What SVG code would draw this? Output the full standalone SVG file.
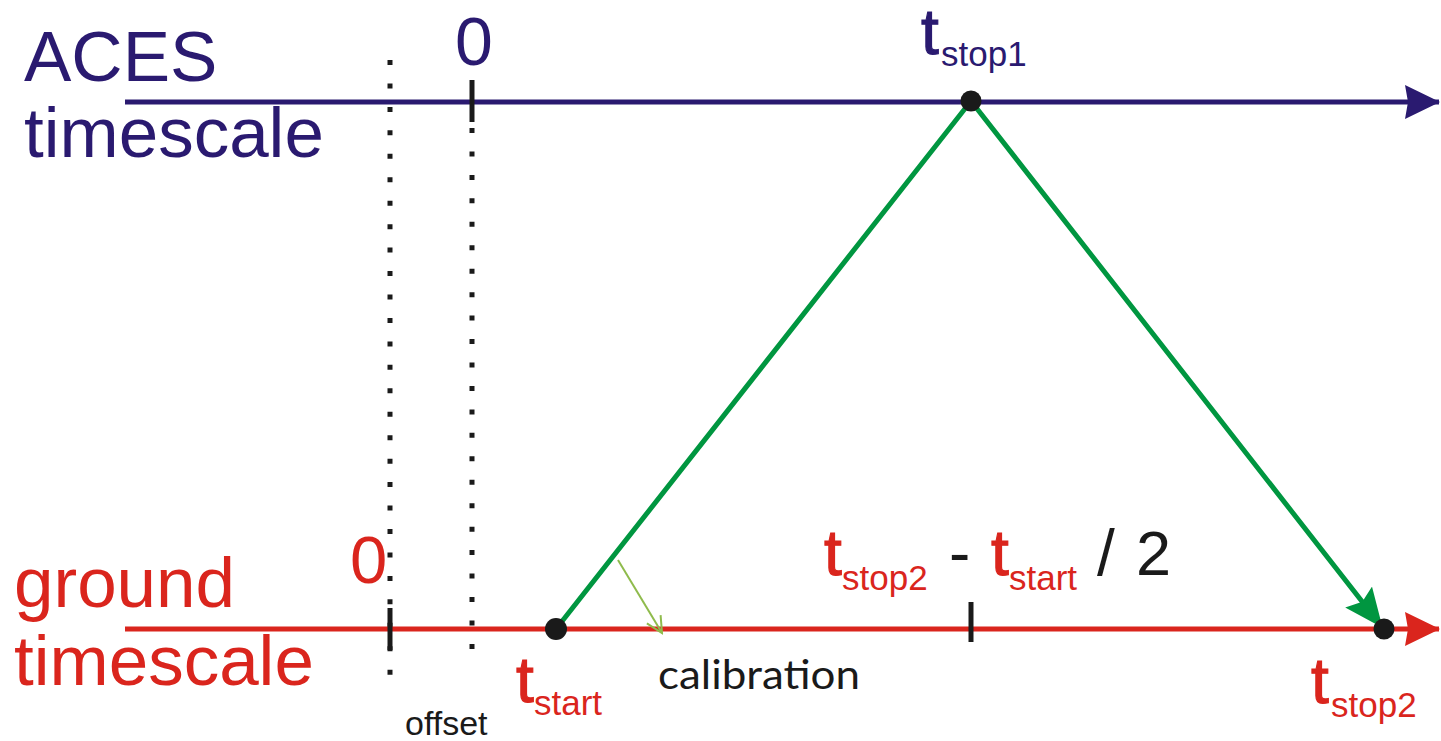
<svg xmlns="http://www.w3.org/2000/svg" width="1441" height="741" viewBox="0 0 1441 741">
<style>
.t{font-family:"Liberation Sans",Arial,sans-serif}
.blue{fill:#2a1a70}
.red{fill:#da251d}
.blk{fill:#1a1a1a}
.bt{stroke-width:1.2}
.blue.bt{stroke:#2a1a70}
.red.bt{stroke:#da251d}
.dots{stroke:#1a1a1a;stroke-width:5;stroke-dasharray:5 18.45;fill:none}
.tick{stroke:#1a1a1a;stroke-width:5}
.pt{fill:#1a1a1a}
</style>
<defs>
<marker id="ahBlue" viewBox="0 0 36 36" refX="34" refY="18" markerWidth="36" markerHeight="36" markerUnits="userSpaceOnUse" orient="auto">
<path d="M0,1 L35,18 L0,35 L3,18 Z" fill="#2a1a70"/>
</marker>
<marker id="ahRed" viewBox="0 0 36 36" refX="34" refY="18" markerWidth="36" markerHeight="36" markerUnits="userSpaceOnUse" orient="auto">
<path d="M0,1 L35,18 L0,35 L3,18 Z" fill="#da251d"/>
</marker>
<marker id="ahGreen" viewBox="0 0 40 34" refX="38" refY="17" markerWidth="40" markerHeight="34" markerUnits="userSpaceOnUse" orient="auto">
<path d="M0,0 L39,17 L0,34 L6,17 Z" fill="#009640"/>
</marker>
<marker id="ahCal" viewBox="0 0 20 20" refX="18" refY="10" markerWidth="20" markerHeight="20" markerUnits="userSpaceOnUse" orient="auto">
<path d="M2,2 L18,10 L2,18" fill="none" stroke="#8fbb4c" stroke-width="2"/>
</marker>
</defs>

<g id="guides">
<line class="dots" x1="390" y1="60" x2="390" y2="676"/>
<line class="dots" x1="472" y1="128" x2="472" y2="649"/>
</g>

<g id="connectors">
<line x1="125" y1="102" x2="1439" y2="102" stroke="#2a1a70" stroke-width="5" marker-end="url(#ahBlue)"/>
<line x1="125" y1="629" x2="1439" y2="629" stroke="#da251d" stroke-width="5" marker-end="url(#ahRed)"/>
<polyline points="556,629 971,101 1382,627" fill="none" stroke="#009640" stroke-width="5" marker-end="url(#ahGreen)"/>
<line x1="618" y1="560" x2="662" y2="633" stroke="#8fbb4c" stroke-width="2" marker-end="url(#ahCal)"/>
</g>

<g id="ticks">
<line class="tick" x1="472" y1="80" x2="472" y2="122"/>
<line class="tick" x1="390" y1="608" x2="390" y2="650"/>
<line class="tick" x1="971" y1="602" x2="971" y2="642"/>
</g>

<g id="aces-label">
<text class="t blue" x="24" y="81" font-size="71">ACES</text>
<text class="t blue" x="24" y="157" font-size="71">timescale</text>
</g>
<g id="ground-label">
<text class="t red" x="14" y="607" font-size="71">ground</text>
<text class="t red" x="14" y="685" font-size="71">timescale</text>
</g>

<g id="zero-aces"><text class="t blue" x="455" y="65" font-size="68">0</text></g>
<g id="zero-ground"><text class="t red" x="350" y="583" font-size="67">0</text></g>

<g id="tstop1">
<circle class="pt" cx="971" cy="101" r="10.5"/>
<text class="t blue bt" x="921" y="54" font-size="64">t</text>
<text class="t blue" x="941" y="66" font-size="35">stop1</text>
</g>

<g id="tstart">
<circle class="pt" cx="556" cy="629" r="11"/>
<text class="t red bt" x="516" y="702" font-size="64">t</text>
<text class="t red" x="534" y="715" font-size="35">start</text>
</g>

<g id="tstop2">
<circle class="pt" cx="1384" cy="629" r="10.5"/>
<text class="t red bt" x="1311" y="703" font-size="64">t</text>
<text class="t red" x="1331" y="717" font-size="35">stop2</text>
</g>

<g id="formula">
<text class="t red bt" x="824" y="575" font-size="64">t</text>
<text class="t red" x="842" y="590" font-size="35">stop2</text>
<text class="t blk" x="949" y="575" font-size="64">-</text>
<text class="t red bt" x="991" y="575" font-size="64">t</text>
<text class="t red" x="1009" y="590" font-size="35">start</text>
<text class="t blk" x="1097" y="575" font-size="64">/</text>
<text class="t blk" x="1136" y="575" font-size="63">2</text>
</g>

<g id="calibration">
<text x="658" y="689" font-family="Lato,'Open Sans',sans-serif" font-size="40" class="blk" textLength="202" lengthAdjust="spacingAndGlyphs">calibration</text>
</g>

<g id="offset">
<text class="t blk" x="405" y="735" font-size="34">offset</text>
</g>
</svg>
